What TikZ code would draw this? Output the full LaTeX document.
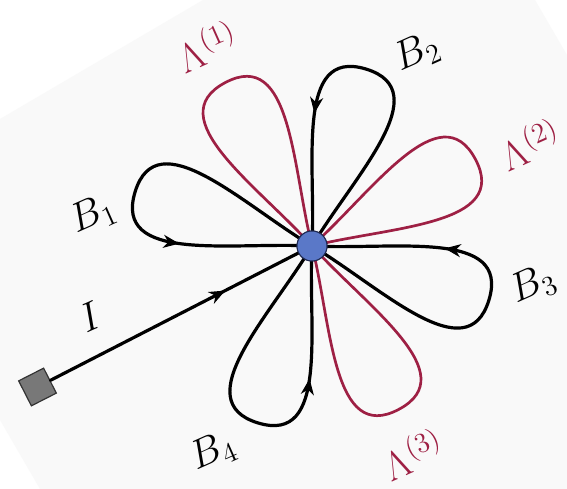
\documentclass[tikz,border=0pt]{standalone}
\usetikzlibrary{arrows.meta,decorations.markings,calc}
\definecolor{lred}{RGB}{158,32,68}
\definecolor{hubblue}{RGB}{90,120,200}
\definecolor{hubedge}{RGB}{30,40,80}
\definecolor{pagegray}{RGB}{249,249,249}
\definecolor{sqgray}{RGB}{120,120,120}
\tikzset{
  tip/.tip={Stealth[length=16pt,width=13pt,inset=5pt]},
  loopline/.style={line width=3.2pt, line join=round, line cap=round},
  bloop/.style={loopline, draw=black},
  lloop/.style={loopline, draw=lred, line width=2.7pt},
  retarrow/.style={postaction={decorate}, decoration={markings,
      mark=at position 0.69 with {\arrow{tip}}}},
  inarrow/.style={postaction={decorate}, decoration={markings,
      mark=at position -82pt with {\arrow{tip}}}},
  lab/.style={font=\huge, inner sep=0pt, scale=1.95, rotate=24},
  hub/.style={circle, fill=hubblue, draw=hubedge, line width=1pt, minimum size=30pt, inner sep=0pt},
  sq/.style={rectangle, fill=sqgray, draw=black!80, line width=1.2pt, minimum size=28pt, inner sep=0pt},
}
\newcommand{\petalshape}[1]{%
  (c) .. controls ($(c)+(#1-14:82)$) and ($(c)+(#1-22.07:199.6)$) .. ($(c)+(#1:185)$)
      .. controls ($(c)+(#1+22.07:199.6)$) and ($(c)+(#1+14:82)$) .. (c)}
\newcommand{\petalB}[1]{\draw[bloop, retarrow] \petalshape{#1};}
\newcommand{\petalL}[1]{\draw[lloop] \petalshape{#1};}
\begin{document}
\begin{tikzpicture}[x=1pt,y=1pt]
  \useasboundingbox (0,0) rectangle (567,489);
  \fill[white] (0,0) rectangle (567,489);
  \fill[pagegray] (0,370) -- (203,489) -- (535,489) -- (567,434) -- (567,0) -- (40,0) -- (0,69) -- cycle;
  \coordinate (c) at (312,243);
  \petalL{118}
  \petalL{28}
  \petalL{-62}
  \petalB{163}
  \petalB{73}
  \petalB{-17}
  \petalB{-107}
  \node[sq, rotate=27] (s) at (37.5,102) {};
  \node[hub] (h) at (c) {};
  \draw[bloop, inarrow] (s) -- (h);
  \node[hub] at (c) {};
  % labels
  \node[lab] (lb1) at (93,274) {$B_1$};
  \node[lab] (lb2) at (417,436) {$B_2$};
  \node[lab] (lb3) at (533,204) {$B_3$};
  \node[lab] (lb4) at (213,37) {$B_4$};
  \node[lab] (li) at (90,172) {$I$};
  \node[lab, text=lred] (ll1) at (207,443) {$\Lambda^{(1)}$};
  \node[lab, text=lred] (ll2) at (530,345) {$\Lambda^{(2)}$};
  \node[lab, text=lred] (ll3) at (413,35) {$\Lambda^{(3)}$};
\end{tikzpicture}
\end{document}
